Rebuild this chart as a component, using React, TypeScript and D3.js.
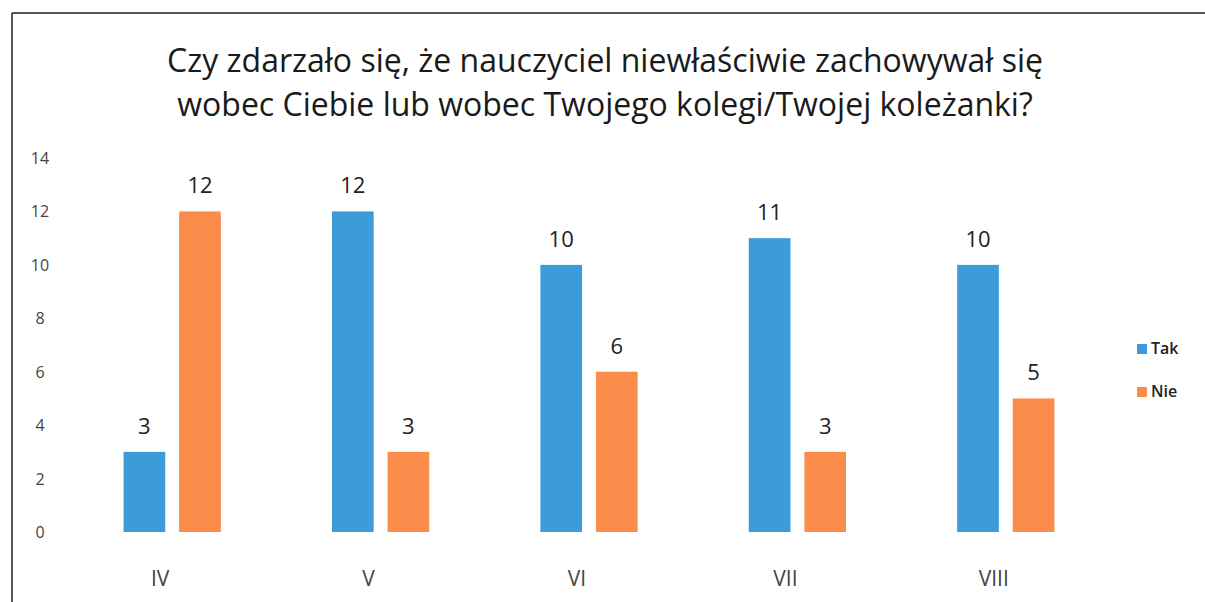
import React from 'react';
import * as d3 from 'd3';

const categories = ['IV', 'V', 'VI', 'VII', 'VIII'];
const tak = [3, 12, 10, 11, 10];
const nie = [12, 3, 6, 3, 5];
const seriesNames = ['Tak', 'Nie'];
const yTicks = [0, 2, 4, 6, 8, 10, 12, 14];
const colors = ['#3d9bd9', '#fb8c4c'];

const W = 1205;
const H = 602;
const font = "'Open Sans', 'Liberation Sans', sans-serif";

const App = () => {
  const x = d3.scaleBand().domain(categories).range([68, 1110]).paddingInner(0).paddingOuter(0);
  const y = d3.scaleLinear().domain([0, 14]).range([532, 158]);
  const inner = d3.scaleBand().domain(seriesNames).range([0, x.bandwidth()]).paddingInner(0.25).paddingOuter(1.0);
  const series = [tak, nie];

  return (
    <svg width={W} height={H} style={{ position: 'absolute', left: 0, top: 0 }}>
      <rect x={0} y={0} width={W} height={H} fill="#fff" />
      <line x1={12} y1={13} x2={W} y2={13} stroke="#555" strokeWidth={2} />
      <line x1={12} y1={13} x2={12} y2={H} stroke="#555" strokeWidth={2} />
      <text x={605} y={72} textAnchor="middle" fontFamily={font} fontSize={32} fill="#1a1a1a">
        Czy zdarzało się, że nauczyciel niewłaściwie zachowywał się
      </text>
      <text x={605} y={116} textAnchor="middle" fontFamily={font} fontSize={32} fill="#1a1a1a">
        wobec Ciebie lub wobec Twojego kolegi/Twojej koleżanki?
      </text>
      {yTicks.map(t => (
        <text key={t} x={40} y={y(t) + 6} textAnchor="middle" fontFamily={font} fontSize={16} fill="#444">
          {t}
        </text>
      ))}
      {categories.map((c, i) => (
        <g key={c} transform={`translate(${x(c)},0)`}>
          {series.map((s, j) => (
            <g key={j}>
              <rect
                x={inner(seriesNames[j])}
                y={y(s[i])}
                width={inner.bandwidth()}
                height={y(0) - y(s[i])}
                fill={colors[j]}
              />
              <text
                x={(inner(seriesNames[j]) as number) + inner.bandwidth() / 2}
                y={y(s[i]) - 18}
                textAnchor="middle"
                fontFamily={font}
                fontSize={22}
                fill="#222"
              >
                {s[i]}
              </text>
            </g>
          ))}
          <text x={x.bandwidth() / 2 - 12} y={586} textAnchor="middle" fontFamily={font} fontSize={21} fill="#444">
            {c}
          </text>
        </g>
      ))}
      {seriesNames.map((n, j) => (
        <g key={n} transform={`translate(1137,${350 + j * 43})`}>
          <rect x={0} y={-6} width={10} height={10} fill={colors[j]} />
          <text x={14} y={4} fontFamily={font} fontSize={16} fontWeight={600} fill="#222">
            {n}
          </text>
        </g>
      ))}
    </svg>
  );
};

export default App;
